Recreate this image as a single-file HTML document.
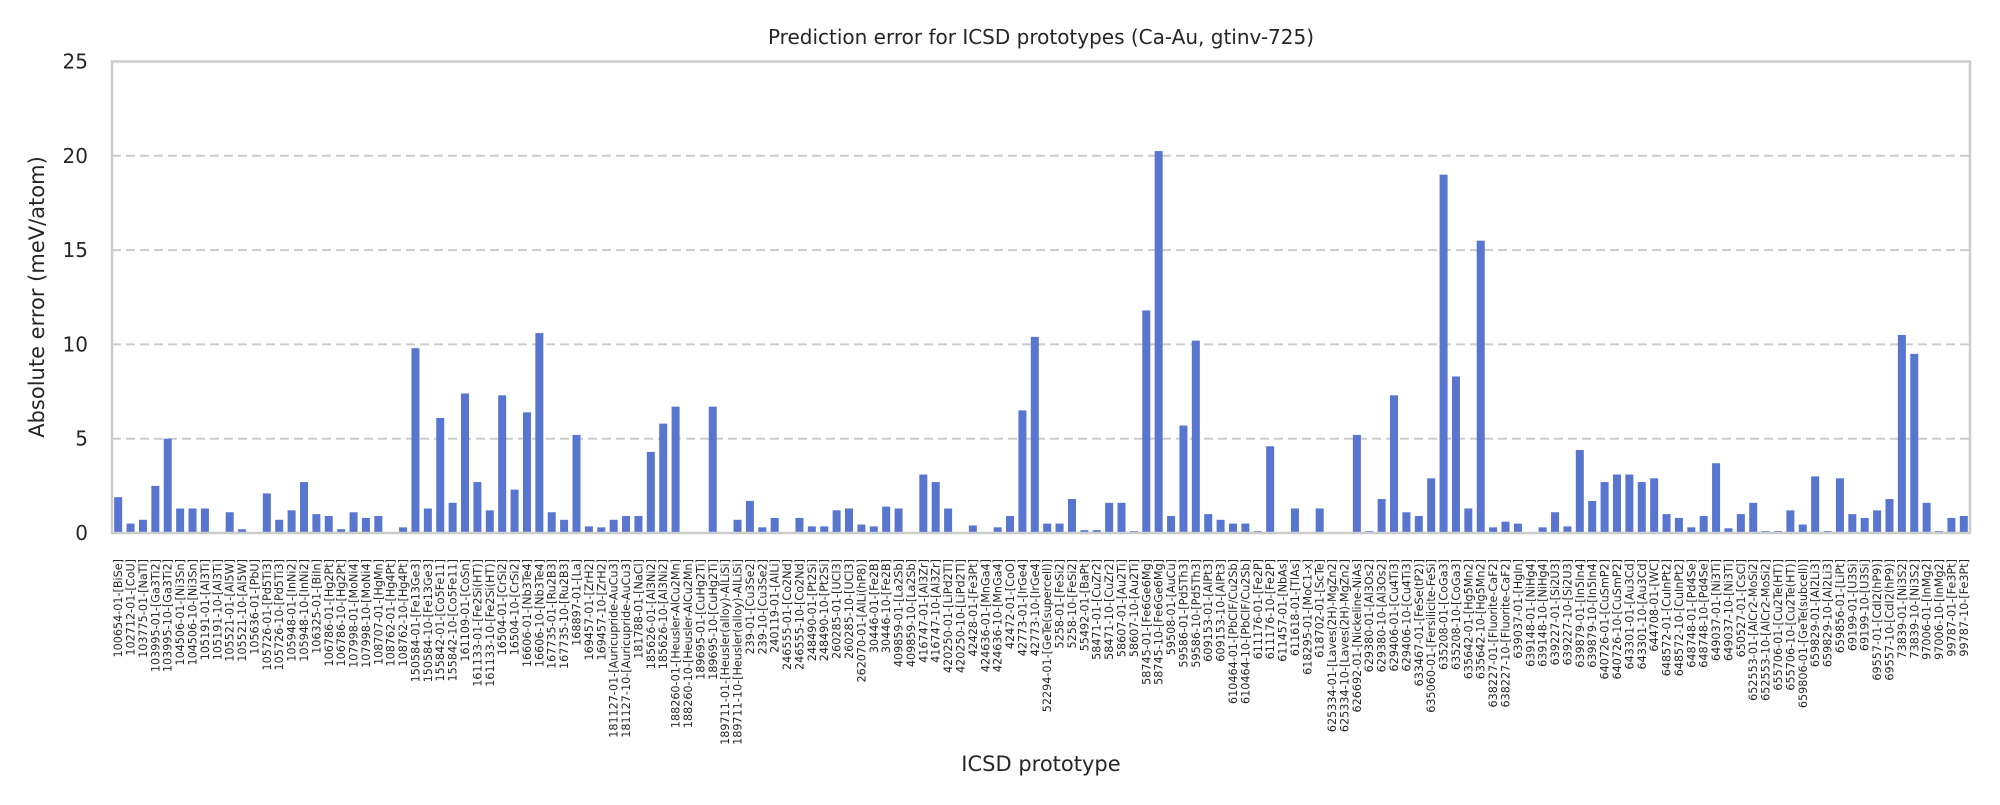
<!DOCTYPE html>
<html><head><meta charset="utf-8"><style>
body{margin:0;background:#fff;}
svg text{font-family:"DejaVu Sans","Liberation Sans",sans-serif;fill:#262626;}
</style></head><body>
<svg id="chart" width="2000" height="800" viewBox="0 0 2000 800" xmlns="http://www.w3.org/2000/svg">
<rect x="0" y="0" width="2000" height="800" fill="#fff"/>
<text x="1041" y="44" font-size="20" text-anchor="middle">Prediction error for ICSD prototypes (Ca-Au, gtinv-725)</text>
<text transform="translate(44,297) rotate(-90)" font-size="21" text-anchor="middle">Absolute error (meV/atom)</text>
<text x="1041" y="771" font-size="21" text-anchor="middle">ICSD prototype</text>
<g id="grid"></g><g id="bars"></g><g id="yticks"></g><g id="xticks"></g>
<rect x="112" y="61.5" width="1858" height="471.5" fill="none" stroke="#cccccc" stroke-width="2.5"/>
</svg>
<script>
const categories = ["100654-01-[BiSe]","102712-01-[CoU]","103775-01-[NaTl]","103995-01-[Ga3Ti2]","103995-10-[Ga3Ti2]","104506-01-[Ni3Sn]","104506-10-[Ni3Sn]","105191-01-[Al3Ti]","105191-10-[Al3Ti]","105521-01-[Al5W]","105521-10-[Al5W]","105636-01-[PbU]","105726-01-[Pd5Ti3]","105726-10-[Pd5Ti3]","105948-01-[InNi2]","105948-10-[InNi2]","106325-01-[BiIn]","106786-01-[Hg2Pt]","106786-10-[Hg2Pt]","107998-01-[MoNi4]","107998-10-[MoNi4]","108707-01-[HgMn]","108762-01-[Hg4Pt]","108762-10-[Hg4Pt]","150584-01-[Fe13Ge3]","150584-10-[Fe13Ge3]","155842-01-[Co5Fe11]","155842-10-[Co5Fe11]","161109-01-[CoSn]","161133-01-[Fe2Si(HT)]","161133-10-[Fe2Si(HT)]","16504-01-[CrSi2]","16504-10-[CrSi2]","16606-01-[Nb3Te4]","16606-10-[Nb3Te4]","167735-01-[Ru2B3]","167735-10-[Ru2B3]","168897-01-[La]","169457-01-[ZrH2]","169457-10-[ZrH2]","181127-01-[Auricupride-AuCu3]","181127-10-[Auricupride-AuCu3]","181788-01-[NaCl]","185626-01-[Al3Ni2]","185626-10-[Al3Ni2]","188260-01-[Heusler-AlCu2Mn]","188260-10-[Heusler-AlCu2Mn]","189695-01-[CuHg2Ti]","189695-10-[CuHg2Ti]","189711-01-[Heusler(alloy)-AlLiSi]","189711-10-[Heusler(alloy)-AlLiSi]","239-01-[Cu3Se2]","239-10-[Cu3Se2]","240119-01-[AlLi]","246555-01-[Co2Nd]","246555-10-[Co2Nd]","248490-01-[Pt2Si]","248490-10-[Pt2Si]","260285-01-[UCl3]","260285-10-[UCl3]","262070-01-[AlLi(hP8)]","30446-01-[Fe2B]","30446-10-[Fe2B]","409859-01-[La2Sb]","409859-10-[La2Sb]","416747-01-[Al3Zr]","416747-10-[Al3Zr]","420250-01-[LiPd2Tl]","420250-10-[LiPd2Tl]","42428-01-[Fe3Pt]","424636-01-[MnGa4]","424636-10-[MnGa4]","42472-01-[CoO]","42773-01-[IrGe4]","42773-10-[IrGe4]","52294-01-[GeTe(supercell)]","5258-01-[FeSi2]","5258-10-[FeSi2]","55492-01-[BaPt]","58471-01-[CuZr2]","58471-10-[CuZr2]","58607-01-[Au2Ti]","58607-10-[Au2Ti]","58745-01-[Fe6Ge6Mg]","58745-10-[Fe6Ge6Mg]","59508-01-[AuCu]","59586-01-[Pd5Th3]","59586-10-[Pd5Th3]","609153-01-[AlPt3]","609153-10-[AlPt3]","610464-01-[PbClF/Cu2Sb]","610464-10-[PbClF/Cu2Sb]","611176-01-[Fe2P]","611176-10-[Fe2P]","611457-01-[NbAs]","611618-01-[TlAs]","618295-01-[MoC1-x]","618702-01-[ScTe]","625334-01-[Laves(2H)-MgZn2]","625334-10-[Laves(2H)-MgZn2]","626692-01-[Nickeline-NiAs]","629380-01-[Al3Os2]","629380-10-[Al3Os2]","629406-01-[Cu4Ti3]","629406-10-[Cu4Ti3]","633467-01-[FeSe(tP2)]","635060-01-[Fersilicite-FeSi]","635208-01-[CoGa3]","635208-10-[CoGa3]","635642-01-[Hg5Mn2]","635642-10-[Hg5Mn2]","638227-01-[Fluorite-CaF2]","638227-10-[Fluorite-CaF2]","639037-01-[HgIn]","639148-01-[NiHg4]","639148-10-[NiHg4]","639227-01-[Si2U3]","639227-10-[Si2U3]","639879-01-[In5In4]","639879-10-[In5In4]","640726-01-[CuSmP2]","640726-10-[CuSmP2]","643301-01-[Au3Cd]","643301-10-[Au3Cd]","644708-01-[WC]","648572-01-[CuInPt2]","648572-10-[CuInPt2]","648748-01-[Pd4Se]","648748-10-[Pd4Se]","649037-01-[Ni3Ti]","649037-10-[Ni3Ti]","650527-01-[CsCl]","652553-01-[AlCr2-MoSi2]","652553-10-[AlCr2-MoSi2]","655706-01-[Cu2Te(HT)]","655706-10-[Cu2Te(HT)]","659806-01-[GeTe(subcell)]","659829-01-[Al2Li3]","659829-10-[Al2Li3]","659856-01-[LiPt]","69199-01-[U3Si]","69199-10-[U3Si]","69557-01-[CdI2(hP9)]","69557-10-[CdI2(hP9)]","73839-01-[Ni3S2]","73839-10-[Ni3S2]","97006-01-[InMg2]","97006-10-[InMg2]","99787-01-[Fe3Pt]","99787-10-[Fe3Pt]"];
const errors = [1.9,0.5,0.7,2.5,5.0,1.3,1.3,1.3,0,1.1,0.2,0,2.1,0.7,1.2,2.7,1.0,0.9,0.2,1.1,0.8,0.9,0.05,0.3,9.8,1.3,6.1,1.6,7.4,2.7,1.2,7.3,2.3,6.4,10.6,1.1,0.7,5.2,0.35,0.3,0.7,0.9,0.9,4.3,5.8,6.7,0,0,6.7,0,0.7,1.7,0.3,0.8,0,0.8,0.35,0.35,1.2,1.3,0.45,0.35,1.4,1.3,0,3.1,2.7,1.3,0.05,0.4,0.05,0.3,0.9,6.5,10.4,0.5,0.5,1.8,0.15,0.15,1.6,1.6,0.1,11.8,20.25,0.9,5.7,10.2,1.0,0.7,0.5,0.5,0.1,4.6,0,1.3,0,1.3,0,0.05,5.2,0.1,1.8,7.3,1.1,0.9,2.9,19.0,8.3,1.3,15.5,0.3,0.6,0.5,0.05,0.3,1.1,0.35,4.4,1.7,2.7,3.1,3.1,2.7,2.9,1.0,0.8,0.3,0.9,3.7,0.25,1.0,1.6,0.1,0.1,1.2,0.45,3.0,0.1,2.9,1.0,0.8,1.2,1.8,10.5,9.5,1.6,0.1,0.8,0.9];
const yTicks = [0,5,10,15,20,25];

const NS="http://www.w3.org/2000/svg";
const X0=112, X1=1970, Y0=533, Y1=61.5, YMAX=25;
const step=(X1-X0)/categories.length;
function xScale(i){return X0+step*(i+0.5);}
function yScale(v){return Y0-(Y0-Y1)*v/YMAX;}
function mk(tag,attrs,parent){const e=document.createElementNS(NS,tag);for(const k in attrs)e.setAttribute(k,attrs[k]);parent.appendChild(e);return e;}
const grid=document.getElementById('grid'),bars=document.getElementById('bars'),yt=document.getElementById('yticks'),xt=document.getElementById('xticks');
yTicks.forEach(t=>{
  if(t>0&&t<YMAX){const l=mk('line',{x1:X0,x2:X1,y1:yScale(t),y2:yScale(t),stroke:'#cccccc','stroke-width':2,'stroke-dasharray':'9,5'},grid);
  
  }
  const tx=mk('text',{x:88,y:yScale(t)+7,'font-size':20,'text-anchor':'end'},yt);tx.textContent=t;
  
  
});
const bw=8;
errors.forEach((v,i)=>{
  const r=mk('rect',{x:xScale(i)-bw/2,y:yScale(v),width:bw,height:Math.max(0,Y0-yScale(v)),fill:'#5875cf'},bars);
  
  
});
categories.forEach((c,i)=>{
  const x=xScale(i)+4;
  const tx=mk('text',{transform:'translate('+x+',559) rotate(-90)','font-size':11.2,'text-anchor':'end'},xt);
  tx.textContent=c;
  
  
});
</script>
</body></html>
